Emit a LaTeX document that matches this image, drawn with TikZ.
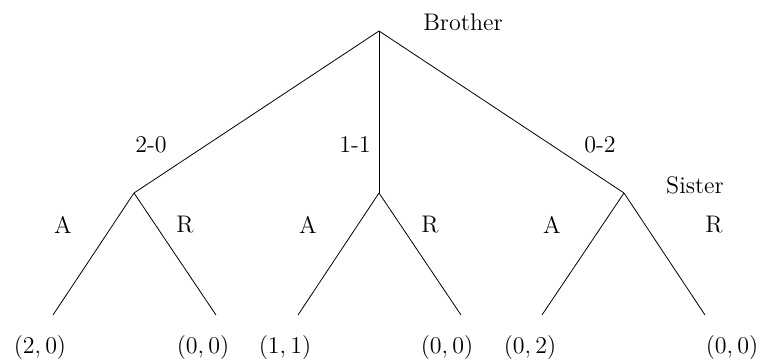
\documentclass[tikz,border=0pt]{standalone}
\begin{document}
\begin{tikzpicture}[x=0.5pt,y=-0.5pt,font=\large]
\useasboundingbox (0,0) rectangle (761,362);
\coordinate (r) at (379,31);
\coordinate (b1) at (134,193);
\coordinate (b2) at (379,193);
\coordinate (b3) at (624,193);
\coordinate (l1) at (53,315);
\coordinate (l2) at (216,315);
\coordinate (l3) at (298,315);
\coordinate (l4) at (461,315);
\coordinate (l5) at (542,315);
\coordinate (l6) at (705,315);
\node (brother) at (463,22) {Brother};
\node (sister) at (695,185) {Sister};
\node (m1) at (151,145) {2-0};
\node (m2) at (355,145) {1-1};
\node (m3) at (600,145) {0-2};
\node (a1) at (63,225) {A};
\node (r1) at (185,225) {R};
\node (a2) at (308,225) {A};
\node (r2) at (430,225) {R};
\node (a3) at (552,225) {A};
\node (r3) at (714,225) {R};
\node (p1) at (40,348) {$(2,0)$};
\node (p2) at (203,348) {$(0,0)$};
\node (p3) at (285,348) {$(1,1)$};
\node (p4) at (447,348) {$(0,0)$};
\node (p5) at (530,348) {$(0,2)$};
\node (p6) at (732,348) {$(0,0)$};
\draw (r)--(b1); \draw (r)--(b2); \draw (r)--(b3);
\draw (b1)--(l1); \draw (b1)--(l2);
\draw (b2)--(l3); \draw (b2)--(l4);
\draw (b3)--(l5); \draw (b3)--(l6);
\end{tikzpicture}
\end{document}
